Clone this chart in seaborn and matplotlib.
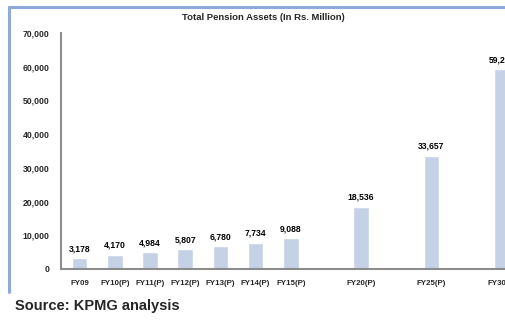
import matplotlib
matplotlib.use("Agg")
import matplotlib.pyplot as plt
import seaborn as sns
import pandas as pd
import numpy as np
from matplotlib.lines import Line2D

# Data
categories = ["FY09", "FY10(P)", "FY11(P)", "FY12(P)", "FY13(P)", "FY14(P)", "FY15(P)",
              "gap1", "FY20(P)", "gap2", "FY25(P)", "gap3", "FY30(P)"]
tick_labels = ["FY09", "FY10(P)", "FY11(P)", "FY12(P)", "FY13(P)", "FY14(P)", "FY15(P)",
               "", "FY20(P)", "", "FY25(P)", "", "FY30(P)"]
values = [3178, 4170, 4984, 5807, 6780, 7734, 9088, np.nan, 18536, np.nan, 33657, np.nan, 59245]
y_ticks = [0, 10000, 20000, 30000, 40000, 50000, 60000, 70000]
y_tick_labels = ["0", "10,000", "20,000", "30,000", "40,000", "50,000", "60,000", "70,000"]
title = "Total Pension Assets (In Rs. Million)"
source = "Source: KPMG analysis"

sns.set_theme(style="white")
plt.rcParams["font.family"] = ["Liberation Sans", "DejaVu Sans"]

df = pd.DataFrame({"cat": categories, "val": values})

fig = plt.figure(figsize=(5.06, 3.24), dpi=100)
ax = fig.add_axes([61 / 506, 1 - 269 / 324, (519.5 - 61) / 506, (269 - 33) / 324])

sns.barplot(data=df.dropna(), x="cat", y="val", order=categories, color="#c5d2e5",
            saturation=1, width=0.44, ax=ax)

# labels above bars
for i, v in enumerate(values):
    if not np.isnan(v):
        ax.text(i, v + 1500, f"{int(v):,}", ha="center", va="bottom",
                fontsize=6.2, fontweight="bold", color="black")

ax.set_xlim(-0.53, 12.5)
ax.set_ylim(0, 70000)
ax.set_yticks(y_ticks)
ax.set_yticklabels(y_tick_labels, fontsize=6.2, fontweight="bold")
ax.set_xticks(range(len(categories)))
ax.set_xticklabels(tick_labels, fontsize=5.7, fontweight="bold")
ax.set_xlabel("")
ax.set_ylabel("")

# minor ticks at slot boundaries
ax.set_xticks(np.arange(-0.5, 12.6, 1.0), minor=True)
ax.tick_params(axis="x", which="major", length=0, pad=8)
ax.tick_params(axis="x", which="minor", length=4, width=1, color="#808080", direction="out")
ax.tick_params(axis="y", length=5, width=1, color="#808080", direction="inout", pad=6)

for s in ["top", "right"]:
    ax.spines[s].set_visible(False)
for s in ["left", "bottom"]:
    ax.spines[s].set_color("#8c8c8c")
    ax.spines[s].set_linewidth(1.5)

fig.text(263 / 506, 1 - 17 / 324, title, ha="center", va="center", fontsize=6.8, fontweight="bold")
fig.text(15 / 506, 1 - 306 / 324, source, ha="left", va="center", fontsize=10.5, fontweight="bold")

# decorative frame
fig.add_artist(Line2D([9 / 506, 1.0], [1 - 7 / 324, 1 - 7 / 324], color="#8eaadb", lw=2.2))
fig.add_artist(Line2D([9 / 506, 9 / 506], [1 - 7 / 324, 1 - 292 / 324], color="#8eaadb", lw=2.2))

fig.savefig("out.png", dpi=100)
